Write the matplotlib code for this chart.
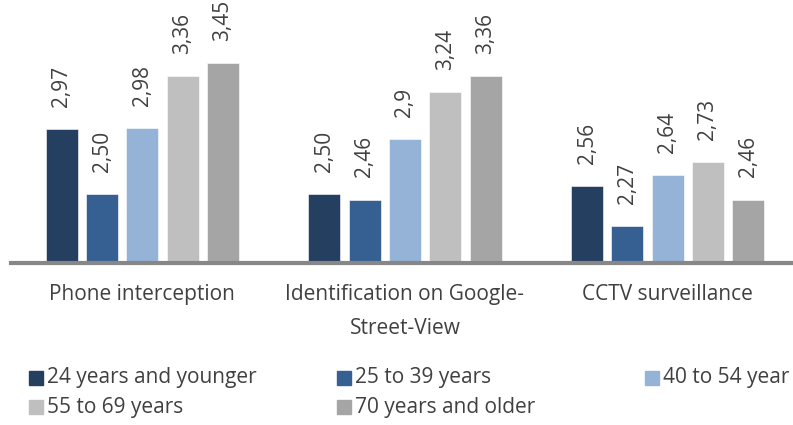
import matplotlib

matplotlib.use("Agg")
import matplotlib.pyplot as plt
from matplotlib.patches import Rectangle
import numpy as np

categories = ["Phone interception", "Identification on Google-\nStreet-View", "CCTV surveillance"]
# the third legend entry is cut off at the right edge in the original
series = ["24 years and younger", "25 to 39 years", "40 to 54 year", "55 to 69 years", "70 years and older"]
colors = ["#243F60", "#366092", "#95B3D7", "#BFBFBF", "#A5A5A5"]

values = [
    [2.97, 2.50, 2.56],
    [2.50, 2.46, 2.27],
    [2.98, 2.90, 2.64],
    [3.36, 3.24, 2.73],
    [3.45, 3.36, 2.46],
]
labels = [
    ["2,97", "2,50", "2,56"],
    ["2,50", "2,46", "2,27"],
    ["2,98", "2,9", "2,64"],
    ["3,36", "3,24", "2,73"],
    ["3,45", "3,36", "2,46"],
]

plt.rcParams["font.family"] = ["Open Sans", "DejaVu Sans"]
text_color = "#404040"
fs = 15

fig = plt.figure(figsize=(7.93, 4.25), dpi=100)
ax = fig.add_axes([11 / 793, 162 / 425, 788 / 793, 263 / 425])

x = np.arange(len(categories))
width = 0.122
pitch = 0.1535
base = 2.0

for i, (name, col) in enumerate(zip(series, colors)):
    pos = x + (i - 2) * pitch
    heights = [v - base for v in values[i]]
    ax.bar(pos, heights, width, bottom=base, color=col, edgecolor="white", linewidth=0.4, zorder=2)
    for xp, v, lab in zip(pos, values[i], labels[i]):
        ax.annotate(lab, (xp, v), xytext=(0, 16), textcoords="offset points",
                    rotation=90, ha="center", va="bottom", fontsize=fs, color=text_color)

ax.set_xlim(-0.5, 2.5)
ax.set_ylim(base, 3.91)
for s in ["top", "right", "left", "bottom"]:
    ax.spines[s].set_visible(False)
ax.axhline(base, color="#878787", linewidth=3, zorder=3, clip_on=False)
ax.set_yticks([])
ax.set_xticks([])

# category labels under the axis
for xi, cat in zip(x, categories):
    ax.annotate(cat, (xi, base), xytext=(0, -15), textcoords="offset points",
                ha="center", va="top", fontsize=fs, color=text_color, linespacing=1.85)

# legend laid out by hand, 3 columns
col_x = [29, 337, 645]
row_y = [378, 407]
for i, (name, col) in enumerate(zip(series, colors)):
    cx = col_x[i % 3]
    cy = row_y[i // 3]
    fig.patches.append(Rectangle((cx / 793, 1 - (cy + 7) / 425), 14 / 793, 14 / 425,
                                 transform=fig.transFigure, color=col))
    fig.text((cx + 18) / 793, 1 - cy / 425, name, ha="left", va="center",
             fontsize=fs, color=text_color)

fig.savefig("out.png", dpi=100)
